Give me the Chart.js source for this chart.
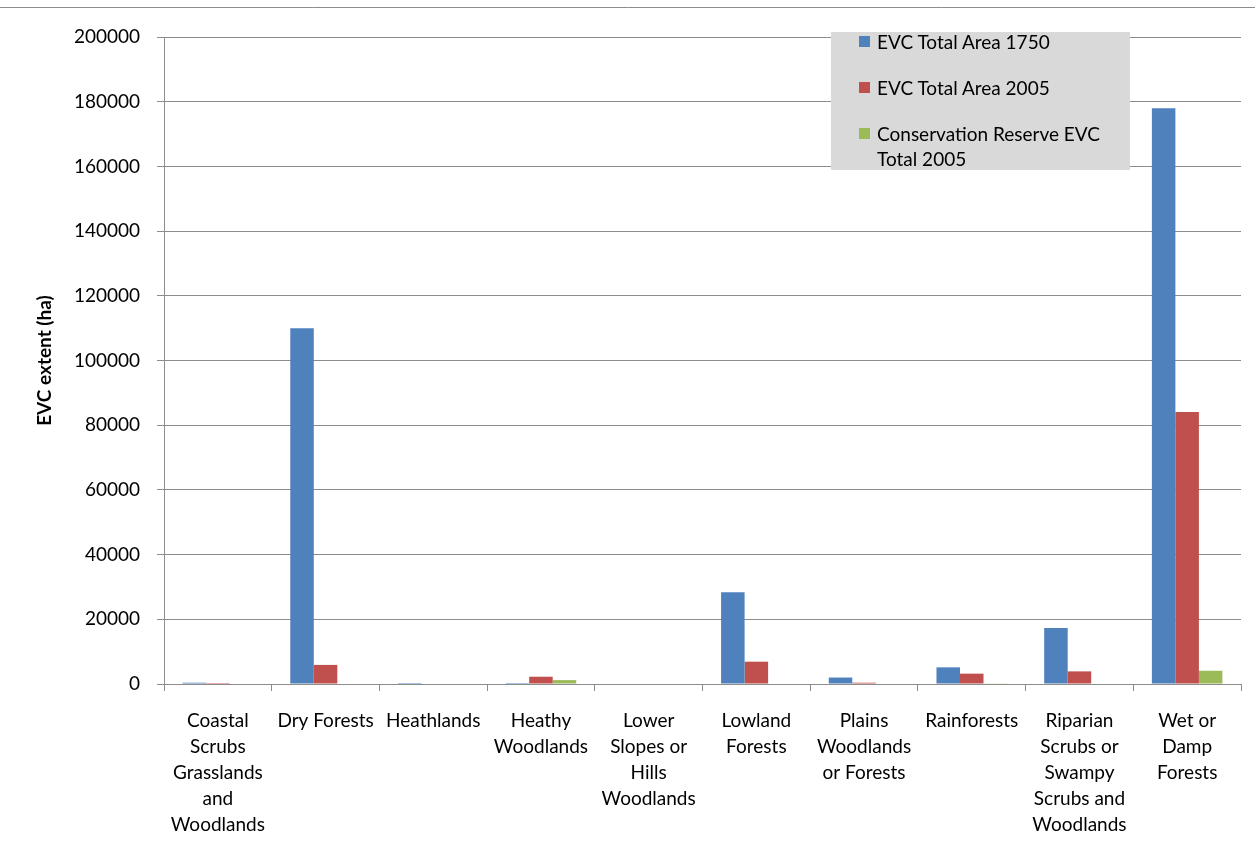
<!DOCTYPE html>
<html><head><meta charset="utf-8">
<script src="https://cdn.jsdelivr.net/npm/chart.js@4/dist/chart.umd.min.js"></script>
<style>
html,body{margin:0;padding:0;background:#fff;}
#wrap{position:relative;width:1255px;height:858px;}
#legend{position:absolute;left:831px;top:32px;width:299px;height:138px;background:#d9d9d9;font-family:Lato,"Open Sans",sans-serif;font-size:19px;color:#000;}
.li{position:absolute;left:28px;display:flex;align-items:flex-start;line-height:25px;}
.sw{width:11px;height:11px;margin-top:7px;margin-right:7px;flex:none;}
.tx{width:240px;}
</style></head>
<body><div id="wrap"><canvas id="c" width="1255" height="858"></canvas><div id="legend"></div></div>
<script>
const categories = [
  ["Coastal","Scrubs","Grasslands","and","Woodlands"],
  ["Dry Forests"],
  ["Heathlands"],
  ["Heathy","Woodlands"],
  ["Lower","Slopes or","Hills","Woodlands"],
  ["Lowland","Forests"],
  ["Plains","Woodlands","or Forests"],
  ["Rainforests"],
  ["Riparian","Scrubs or","Swampy","Scrubs and","Woodlands"],
  ["Wet or","Damp","Forests"]
];
const seriesNames = ["EVC Total Area 1750","EVC Total Area 2005","Conservation Reserve EVC Total 2005"];
const area1750 = [400, 110000, 300, 300, 0, 28400, 2000, 5150, 17300, 178000];
const area2005 = [300, 5900, 0, 2250, 0, 6900, 400, 3200, 3900, 84100];
const reserve2005 = [0, 0, 0, 1200, 0, 0, 0, 200, 0, 4100];
const yTicks = [0,20000,40000,60000,80000,100000,120000,140000,160000,180000,200000];
const colors = ["#4F81BD","#C0504D","#9BBB59"];

const FONT = "Lato";
const borderPlugin = {
  id:'topline',
  beforeDraw(chart){
    const ctx=chart.ctx; ctx.save(); ctx.strokeStyle='#8c8c8c'; ctx.lineWidth=1;
    ctx.beginPath(); ctx.moveTo(0,7.5); ctx.lineTo(1255,7.5); ctx.stroke(); ctx.restore();
  }
};
const chart = new Chart(document.getElementById('c'), {
  type:'bar',
  data:{
    labels: categories,
    datasets:[
      {label:seriesNames[0], data:area1750, backgroundColor:colors[0]},
      {label:seriesNames[1], data:area2005, backgroundColor:colors[1]},
      {label:seriesNames[2], data:reserve2005, backgroundColor:colors[2]}
    ]
  },
  options:{
    responsive:false, animation:false,
    layout:{padding:{top:37,right:14,left:0,bottom:0}},
    plugins:{legend:{display:false},tooltip:{enabled:false}},
    datasets:{bar:{categoryPercentage:0.655,barPercentage:1,borderWidth:0}},
    scales:{
      x:{
        grid:{drawOnChartArea:false,drawTicks:true,tickLength:7,color:'#8c8c8c',offset:true},
        border:{color:'#8c8c8c',width:1},
        ticks:{color:'#000',font:{family:FONT,size:19,lineHeight:1.37},maxRotation:0,minRotation:0,autoSkip:false,padding:17},
        afterFit(s){s.height=174;}
      },
      y:{
        min:0,max:200000,
        afterBuildTicks(s){s.ticks=yTicks.map(v=>({value:v}));},
        grid:{color:'#8c8c8c',tickLength:7,drawTicks:true},
        border:{color:'#8c8c8c',width:1},
        ticks:{color:'#000',font:{family:FONT,size:19},padding:17,callback:(v)=>String(v)},
        title:{display:true,text:'EVC extent (ha)',color:'#000',font:{family:FONT,size:19,weight:'bold'},padding:{top:33,bottom:0}},
        afterFit(s){s.width=164;}
      }
    }
  },
  plugins:[borderPlugin]
});

const leg=document.getElementById('legend');
const tops=[-3,43,89];
chart.data.datasets.forEach((d,i)=>{
  const el=document.createElement('div'); el.className='li'; el.style.top=tops[i]+'px';
  const sw=document.createElement('div'); sw.className='sw'; sw.style.background=d.backgroundColor;
  const tx=document.createElement('div'); tx.className='tx'; tx.textContent=d.label;
  el.appendChild(sw); el.appendChild(tx); leg.appendChild(el);
});
</script></body></html>
